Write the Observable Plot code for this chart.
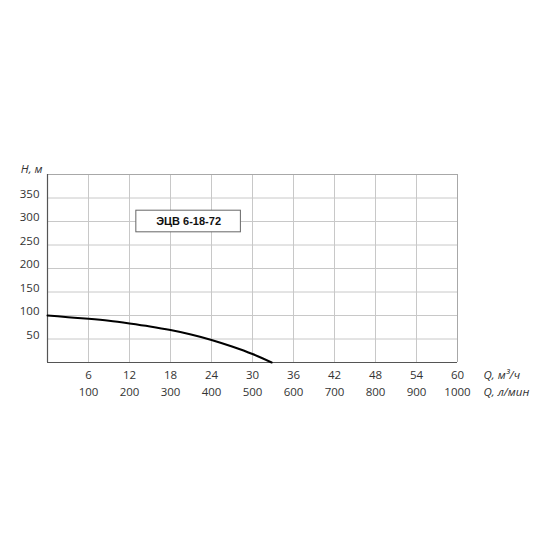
<!DOCTYPE html>
<html>
<head>
<meta charset="utf-8">
<script src="https://cdn.jsdelivr.net/npm/d3@7"></script>
<script src="https://cdn.jsdelivr.net/npm/@observablehq/plot@0.6"></script>
<style>
  html, body { margin: 0; padding: 0; background: #fff; }
  #chart svg { display: block; }
</style>
</head>
<body>
<div id="chart"></div>
<script>
// Data
const flowM3h = [0, 3, 6, 9, 12, 15, 18, 21, 24, 27, 30, 32.8];
const headM   = [100, 96.5, 93, 88.7, 83, 76.6, 69, 59.6, 48, 34, 18, 0];
const xTicksM3h = [6, 12, 18, 24, 30, 36, 42, 48, 54, 60];
const xTicksLmin = [100, 200, 300, 400, 500, 600, 700, 800, 900, 1000];
const yTicks = [50, 100, 150, 200, 250, 300, 350];
const modelName = ["ЭЦВ 6-18-72"];
const modelBox = {x1: 13, x2: 28.3, y1: 277, y2: 323};

const curve = flowM3h.map((q, i) => ({q, h: headM[i]}));
const lminRows = xTicksM3h.map((q, i) => ({q, t: xTicksLmin[i]}));

const font = "'Open Sans', sans-serif";
const textColor = "#333";

const chart = Plot.plot({
  width: 550,
  height: 550,
  marginLeft: 47,
  marginRight: 93,
  marginTop: 174,
  marginBottom: 188,
  style: {fontFamily: font, fontSize: "11.5px", color: textColor, background: "#fff"},
  x: {domain: [0, 60], axis: null},
  y: {domain: [0, 400], axis: null},
  marks: [
    // grid
    Plot.ruleY(yTicks, {stroke: "#c8c8c8", strokeWidth: 1, strokeOpacity: 1}),
    Plot.ruleX(xTicksM3h.slice(0, -1), {stroke: "#c8c8c8", strokeWidth: 1, strokeOpacity: 1}),
    // outer frame (top/right)
    Plot.ruleY([400], {stroke: "#a8a8a8", strokeWidth: 1}),
    Plot.ruleX([60], {stroke: "#a8a8a8", strokeWidth: 1}),
    // axes lines
    Plot.ruleX([0], {stroke: "#555", strokeWidth: 1.2}),
    Plot.ruleY([0], {stroke: "#555", strokeWidth: 1.2}),
    // y tick labels
    Plot.text(yTicks, {x: 0, y: d => d, text: d => String(d), textAnchor: "end", dx: -8, dy: -4, fill: textColor}),
    // x tick labels (m3/h)
    Plot.text(xTicksM3h, {x: d => d, y: 0, text: d => String(d), dy: 13, fill: textColor}),
    // x tick labels (l/min)
    Plot.text(lminRows, {x: "q", y: 0, text: d => String(d.t), dy: 30, fill: textColor}),
    // axis unit labels
    Plot.text(["Q, м³/ч"], {x: 60, y: 0, text: d => d, textAnchor: "start", dx: 26, dy: 13, fontStyle: "italic", fill: textColor}),
    Plot.text(["Q, л/мин"], {x: 60, y: 0, text: d => d, textAnchor: "start", dx: 26, dy: 30, fontStyle: "italic", fill: textColor}),
    Plot.text(["H, м"], {x: 0, y: 400, text: d => d, textAnchor: "end", dx: -5, dy: -5, fontStyle: "italic", fill: textColor}),
    // model label box
    Plot.rect([modelBox], {x1: "x1", x2: "x2", y1: "y1", y2: "y2", fill: "#fff", stroke: "#666", strokeWidth: 1}),
    Plot.text(modelName, {x: (modelBox.x1 + modelBox.x2) / 2, y: (modelBox.y1 + modelBox.y2) / 2, text: d => d,
      fontFamily: "'Liberation Sans', Arial, sans-serif", fontWeight: "bold", fontSize: 11, fill: "#111"}),
    // pump curve
    Plot.line(curve, {x: "q", y: "h", curve: "monotone-x", stroke: "#000", strokeWidth: 2})
  ]
});
document.getElementById("chart").append(chart);
</script>
</body>
</html>
